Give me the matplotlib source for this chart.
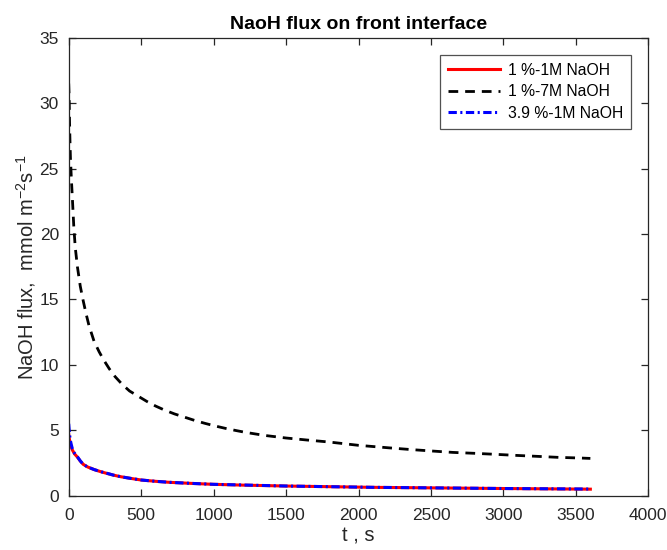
import matplotlib.pyplot as plt

plt.rcParams['font.family'] = ['Liberation Sans', 'DejaVu Sans']
plt.rcParams['mathtext.fontset'] = 'custom'
plt.rcParams['mathtext.rm'] = 'Liberation Sans'
plt.rcParams['mathtext.it'] = 'Liberation Sans:italic'
plt.rcParams['lines.scale_dashes'] = False

# time points (s) and NaOH flux (mmol m^-2 s^-1)
t_low = [0, 5, 10, 18, 25, 40, 60, 80, 100, 130, 175, 220, 265, 310, 360,
         430, 500, 600, 700, 850, 1000, 1200, 1500, 1800, 2100, 2500, 3000,
         3600]
flux_1pct_1M = [4.7, 4.3, 4.0, 3.7, 3.5, 3.2, 2.95, 2.65, 2.4, 2.2, 2.0,
                1.84, 1.7, 1.57, 1.45, 1.32, 1.2, 1.1, 1.02, 0.94, 0.87,
                0.81, 0.74, 0.69, 0.64, 0.6, 0.55, 0.5]
flux_39pct_1M = [5.5, 4.8, 4.3, 3.9, 3.6, 3.25, 2.98, 2.66, 2.4, 2.2, 2.0,
                 1.84, 1.71, 1.57, 1.45, 1.32, 1.2, 1.1, 1.02, 0.94, 0.87,
                 0.82, 0.74, 0.69, 0.64, 0.6, 0.55, 0.51]

t_high = [0, 3, 6, 9, 12, 18, 25, 35, 45, 60, 80, 100, 120, 140, 175, 210,
          240, 280, 320, 370, 420, 480, 540, 600, 660, 730, 800, 870, 940,
          1010, 1080, 1150, 1220, 1350, 1500, 1640, 1800, 2000, 2230, 2370,
          2515, 2650, 2800, 2950, 3090, 3230, 3380, 3530, 3600]
flux_1pct_7M = [31.5, 30.5, 28.5, 27.0, 25.8, 24.3, 22.8, 20.6, 19.0, 17.5,
                16.0, 14.9, 13.9, 13.0, 11.8, 11.0, 10.4, 9.7, 9.1, 8.5,
                8.0, 7.6, 7.2, 6.85, 6.55, 6.25, 6.0, 5.75, 5.53, 5.33,
                5.15, 4.99, 4.84, 4.61, 4.41, 4.26, 4.1, 3.85, 3.64, 3.52,
                3.41, 3.31, 3.24, 3.16, 3.08, 3.01, 2.93, 2.88, 2.85]

labels = ['1 %-1M NaOH', '1 %-7M NaOH', '3.9 %-1M NaOH']
xticks = [0, 500, 1000, 1500, 2000, 2500, 3000, 3500, 4000]
yticks = [0, 5, 10, 15, 20, 25, 30, 35]

fig = plt.figure(figsize=(6.67, 5.5), dpi=100)
ax = fig.add_axes([0.103, 0.0987, 0.869, 0.8328])

ax.plot(t_low, flux_1pct_1M, color='red', lw=2.2, label=labels[0])
ax.plot(t_high, flux_1pct_7M, color='black', lw=2, dashes=(7, 5),
        label=labels[1])
ax.plot(t_low, flux_39pct_1M, color='blue', lw=2.2,
        dashes=(6, 2.5, 1.5, 2.5), label=labels[2])

ax.set_xlim(0, 4000)
ax.set_ylim(0, 35)
ax.set_xticks(xticks)
ax.set_yticks(yticks)

gray = '#262626'
for s in ax.spines.values():
    s.set_color(gray)
    s.set_linewidth(0.9)
ax.tick_params(direction='in', length=5, width=0.9, colors=gray,
               labelsize=12.5, top=True, right=True)
ax.tick_params(axis='x', pad=8.5)
ax.tick_params(axis='y', pad=7)

ax.set_title('NaoH flux on front interface', fontsize=14,
             fontweight='bold', pad=6)
ax.set_xlabel('t , s', fontsize=14.5, color=gray, labelpad=3)
ax.set_ylabel(r'NaOH flux,  mmol m$^{\mathregular{-2}}$s$^{\mathregular{-1}}$',
              fontsize=14.5, color=gray, labelpad=1)

leg = ax.legend(loc='upper right', fontsize=11.3, frameon=True,
                fancybox=False, edgecolor=gray, handlelength=3.3,
                borderaxespad=1.1, labelspacing=0.42, handletextpad=0.5,
                borderpad=0.5)
leg.get_frame().set_linewidth(0.9)

fig.savefig('out.png', dpi=100)
